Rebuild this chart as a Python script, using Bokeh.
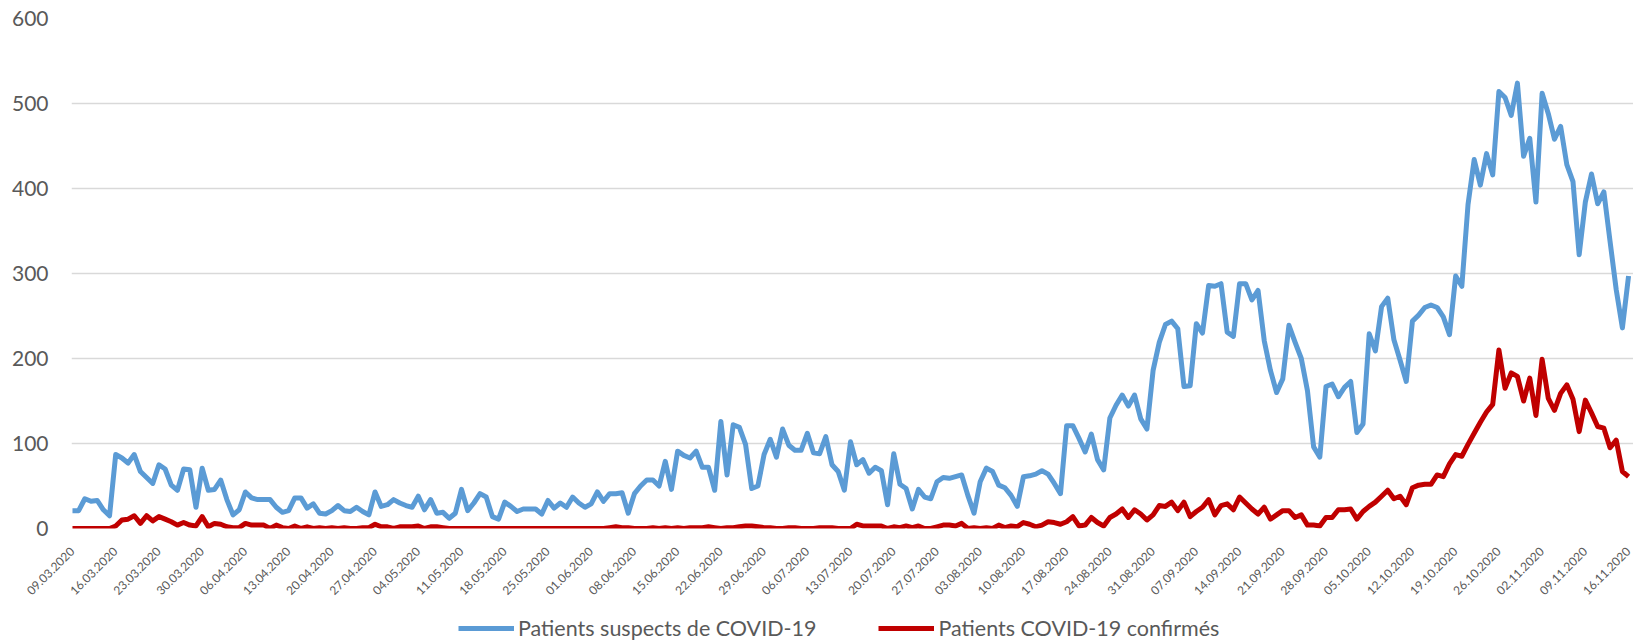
import numpy as np
import pandas as pd
from math import pi
from bokeh.plotting import figure
from bokeh.layouts import column
from bokeh.models import Range1d, FixedTicker, Legend, LegendItem
from bokeh.embed import file_html
from bokeh.resources import INLINE

start_date = "2020-03-09"

suspects = [
    21, 21, 35, 32, 33, 22, 15, 87, 83, 77,
    87, 67, 60, 53, 75, 70, 51, 45, 70, 69,
    25, 71, 45, 46, 57, 34, 16, 22, 43, 36,
    34, 34, 34, 25, 19, 21, 36, 36, 24, 29,
    18, 17, 21, 27, 21, 20, 25, 20, 16, 43,
    26, 28, 34, 30, 27, 25, 38, 22, 34, 18,
    19, 12, 18, 46, 21, 30, 41, 37, 14, 11,
    31, 26, 20, 23, 23, 23, 17, 33, 24, 30,
    25, 37, 30, 25, 29, 43, 32, 41, 41, 42,
    18, 41, 50, 57, 57, 50, 79, 46, 91, 86,
    83, 91, 72, 72, 45, 126, 63, 122, 119, 99,
    47, 50, 87, 105, 84, 117, 98, 92, 92, 112,
    89, 88, 108, 75, 67, 45, 102, 75, 81, 65,
    72, 68, 28, 88, 52, 47, 23, 46, 37, 35,
    55, 60, 59, 61, 63, 39, 18, 55, 71, 67,
    51, 48, 39, 26, 61, 62, 64, 68, 64, 53,
    41, 121, 121, 106, 90, 111, 81, 69, 130, 145,
    157, 144, 157, 129, 117, 186, 219, 240, 244, 235,
    167, 168, 241, 230, 286, 285, 288, 231, 226, 288,
    288, 269, 280, 221, 186, 160, 176, 239, 219, 200,
    162, 96, 84, 167, 170, 155, 166, 173, 113, 123,
    229, 209, 261, 271, 222, 198, 173, 244, 251, 260,
    263, 260, 249, 228, 297, 285, 381, 434, 404, 441,
    416, 514, 507, 486, 524, 438, 459, 384, 512, 488,
    458, 473, 428, 408, 322, 384, 417, 382, 396, 338,
    281, 236, 297,
]

confirmes = [
    0, 0, 0, 0, 0, 0, 0, 3, 10, 11,
    15, 6, 15, 9, 14, 11, 8, 4, 7, 4,
    3, 14, 2, 6, 5, 2, 1, 1, 6, 4,
    4, 4, 0, 4, 1, 0, 3, 0, 2, 0,
    1, 0, 1, 0, 1, 0, 0, 1, 1, 5,
    2, 2, 0, 2, 2, 2, 3, 0, 2, 2,
    1, 0, 0, 0, 0, 0, 0, 0, 0, 0,
    0, 0, 0, 0, 0, 0, 0, 0, 0, 0,
    0, 0, 0, 0, 0, 0, 0, 1, 2, 1,
    1, 0, 0, 0, 1, 0, 1, 0, 1, 0,
    1, 1, 1, 2, 1, 0, 1, 1, 2, 3,
    3, 2, 1, 1, 0, 0, 1, 1, 0, 0,
    0, 1, 1, 1, 0, 0, 0, 5, 3, 3,
    3, 3, 0, 2, 1, 3, 1, 3, 0, 0,
    2, 4, 4, 3, 6, 0, 1, 0, 1, 0,
    4, 1, 3, 2, 7, 5, 2, 4, 8, 7,
    5, 8, 14, 3, 4, 13, 7, 3, 13, 17,
    23, 13, 22, 17, 10, 16, 27, 26, 31, 21,
    31, 14, 20, 25, 34, 16, 27, 29, 22, 37,
    30, 23, 17, 25, 11, 16, 21, 21, 13, 16,
    4, 4, 3, 13, 13, 22, 22, 23, 11, 20,
    26, 31, 38, 45, 35, 38, 28, 48, 51, 52,
    52, 63, 61, 76, 87, 85, 99, 112, 125, 137,
    146, 210, 165, 183, 179, 150, 177, 133, 199, 153,
    139, 159, 169, 152, 114, 151, 136, 120, 118, 95,
    104, 67, 61,
]

series_names = ["Patients suspects de COVID-19", "Patients COVID-19 confirmés"]
series_colors = ["#5B9BD5", "#C00000"]
y_ticks = [0, 100, 200, 300, 400, 500, 600]

n = len(suspects)
dates = pd.date_range(start_date, periods=n, freq="D")
day = np.arange(n)
tick_days = list(range(0, n, 7))
tick_labels = {int(d): dates[d].strftime("%d.%m.%Y") for d in tick_days}

FONT = "Lato"
GRAY = "#595959"

p = figure(width=1633, height=612, output_backend="svg", toolbar_location=None,
           x_range=Range1d(-0.16, n - 1 + 0.8), y_range=Range1d(0, 600),
           min_border_left=71, min_border_right=0, min_border_top=18, min_border_bottom=84)
p.outline_line_color = None
p.background_fill_color = "white"
p.border_fill_color = "white"

p.line(day, suspects, line_color=series_colors[0], line_width=5, line_join="round")
p.line(day, confirmes, line_color=series_colors[1], line_width=5, line_join="round")

# y axis
p.yaxis.ticker = FixedTicker(ticks=y_ticks)
p.yaxis.axis_line_color = None
p.yaxis.major_tick_line_color = None
p.yaxis.minor_tick_line_color = None
p.yaxis.major_tick_out = 0
p.yaxis.minor_tick_out = 0
p.yaxis.major_label_standoff = 23
p.yaxis.major_label_text_font = FONT
p.yaxis.major_label_text_font_size = "21px"
p.yaxis.major_label_text_color = GRAY

# x axis
p.xaxis.ticker = FixedTicker(ticks=tick_days)
p.xaxis.major_label_overrides = tick_labels
p.xaxis.major_label_orientation = pi / 4
p.xaxis.axis_line_color = None
p.xaxis.major_tick_line_color = None
p.xaxis.minor_tick_line_color = None
p.xaxis.major_tick_out = 0
p.xaxis.minor_tick_out = 0
p.xaxis.major_label_standoff = 21
p.xaxis.major_label_text_font = FONT
p.xaxis.major_label_text_font_size = "12px"
p.xaxis.major_label_text_color = GRAY

# grid
p.xgrid.visible = False
p.ygrid.ticker = FixedTicker(ticks=y_ticks)
p.ygrid.grid_line_color = "#D9D9D9"
p.ygrid.grid_line_width = 1.5

# legend strip below the chart (series drawn out of view; only legend swatches show)
lg = figure(width=1633, height=30, output_backend="svg", toolbar_location=None,
            x_axis_location=None, y_axis_location=None,
            x_range=Range1d(-0.16, n - 1 + 0.8), y_range=Range1d(-20, -10), min_border=0)
lg.outline_line_color = None
lg.grid.visible = False
lg.background_fill_color = "white"
lg.border_fill_color = "white"
hidden = [lg.line(day, vals, line_color=c, line_width=5)
          for vals, c in zip([suspects, confirmes], series_colors)]

legend = Legend(items=[LegendItem(label=name, renderers=[r]) for name, r in zip(series_names, hidden)],
                orientation="horizontal", location=(387, 1))
legend.border_line_color = None
legend.background_fill_alpha = 0
legend.padding = 0
legend.margin = 0
legend.spacing = 62
legend.glyph_width = 56
legend.glyph_height = 20
legend.label_standoff = 4
legend.label_height = 20
legend.label_text_font = FONT
legend.label_text_font_size = "21.5px"
legend.label_text_color = GRAY
legend.label_text_baseline = "middle"
lg.add_layout(legend)

layout = column(p, lg, spacing=0)
open("out.html", "w").write(file_html(layout, INLINE))
